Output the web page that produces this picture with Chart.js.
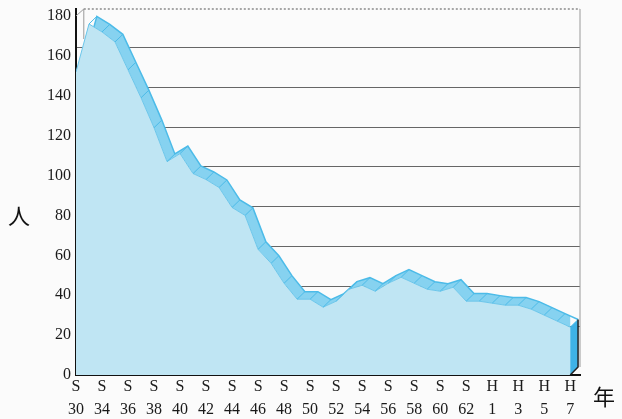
<!DOCTYPE html>
<html>
<head>
<meta charset="utf-8">
<script src="https://cdn.jsdelivr.net/npm/chart.js@4"></script>
<style>
  body { margin: 0; background: #fbfbfb; }
  #wrap { width: 622px; height: 419px; }
</style>
</head>
<body>
<div id="wrap"><canvas id="c"></canvas></div>
<script>
// 年（昭和S / 平成H）ラベル
const ERA = ['S','S','S','S','S','S','S','S','S','S','S','S','S','S','S','S','H','H','H','H'];
const YEAR = ['30','34','36','38','40','42','44','46','48','50','52','54','56','58','60','62','1','3','5','7'];
// 人数（各年、ラベル間にもう1点）
const PEOPLE = [
  152, 176, 172, 167, 153, 139, 124, 107, 111, 101,
  98, 94, 84, 80, 63, 56, 46, 38, 38, 34,
  37, 43, 45, 42, 46, 49, 46, 43, 42, 44,
  37, 37, 36, 35, 35, 33, 30, 27, 24
];
const Y_TICKS = [0, 20, 40, 60, 80, 100, 120, 140, 160, 180];

// 奥行き（3D風のずれ）
const DEPTH_X = 0.6;
const DEPTH_Y = 3.8;

const front = PEOPLE.map((v, i) => ({ x: i, y: v }));
const back = PEOPLE.map((v, i) => ({ x: i + DEPTH_X, y: v + DEPTH_Y }));

const framePlugin = {
  id: 'frame',
  beforeDatasetsDraw(chart) {
    const { ctx, chartArea: a, scales } = chart;
    const dx = scales.x.getPixelForValue(DEPTH_X) - scales.x.getPixelForValue(0);
    ctx.save();
    ctx.strokeStyle = '#555';
    ctx.lineWidth = 1;
    ctx.setLineDash([2, 2]);
    ctx.beginPath();
    ctx.moveTo(a.left + dx, a.top);
    ctx.lineTo(a.right, a.top);
    ctx.stroke();
    ctx.setLineDash([]);
    ctx.strokeStyle = '#999';
    ctx.beginPath();
    ctx.moveTo(a.right, a.top);
    ctx.lineTo(a.right, a.bottom - 8);
    ctx.moveTo(a.left + dx, a.top);
    ctx.lineTo(a.left + dx, a.top + 30);
    ctx.moveTo(a.left, scales.y.getPixelForValue(180));
    ctx.lineTo(a.left + dx, a.top);
    ctx.stroke();
    ctx.restore();
  },
  afterDatasetsDraw(chart) {
    const { ctx, scales } = chart;
    const last = PEOPLE.length - 1;
    const x0 = scales.x.getPixelForValue(last);
    const x1 = scales.x.getPixelForValue(last + DEPTH_X);
    const y0 = scales.y.getPixelForValue(PEOPLE[last]);
    const y1 = scales.y.getPixelForValue(PEOPLE[last] + DEPTH_Y);
    const yb = scales.y.getPixelForValue(0);
    ctx.save();
    // 区切り線（リボンの各節）
    ctx.strokeStyle = '#4cbbe8';
    ctx.lineWidth = 1;
    ctx.beginPath();
    PEOPLE.forEach((v, i) => {
      if (i === 0) return;
      const fx = scales.x.getPixelForValue(i), fy = scales.y.getPixelForValue(v);
      const bx = scales.x.getPixelForValue(i + DEPTH_X), by = scales.y.getPixelForValue(v + DEPTH_Y);
      ctx.moveTo(fx, fy);
      ctx.lineTo(bx, by);
    });
    ctx.stroke();
    // 右側面
    ctx.fillStyle = '#3fb2e6';
    ctx.beginPath();
    ctx.moveTo(x0, y0);
    ctx.lineTo(x1, y1);
    ctx.lineTo(x1, yb - 8);
    ctx.lineTo(x0, yb);
    ctx.closePath();
    ctx.fill();
    ctx.strokeStyle = '#222';
    ctx.lineWidth = 1.5;
    ctx.beginPath();
    ctx.moveTo(x0, yb);
    ctx.lineTo(x1, yb - 8);
    ctx.lineTo(x1, y1);
    ctx.stroke();
    // 軸タイトル
    ctx.fillStyle = '#111';
    ctx.font = '22px "Noto Sans CJK JP"';
    ctx.textAlign = 'center';
    ctx.textBaseline = 'middle';
    ctx.fillText('人', 19, 216);
    ctx.fillText('年', 604, 397);
    ctx.restore();
  }
};

new Chart(document.getElementById('c'), {
  type: 'line',
  data: {
    datasets: [
      {
        data: front,
        borderColor: '#6cc6ea',
        borderWidth: 1,
        backgroundColor: '#bfe5f3',
        fill: 'origin',
        pointRadius: 0,
        tension: 0
      },
      {
        data: back,
        borderColor: '#4cbbe8',
        borderWidth: 1.5,
        backgroundColor: '#86d2f0',
        fill: '-1',
        pointRadius: 0,
        tension: 0
      }
    ]
  },
  options: {
    responsive: true,
    maintainAspectRatio: false,
    animation: false,
    layout: { padding: { left: 0, right: 42, top: 9, bottom: 0 } },
    plugins: { legend: { display: false }, tooltip: { enabled: false } },
    scales: {
      x: {
        type: 'linear',
        min: 0,
        max: PEOPLE.length - 1 + 0.75,
        afterFit: s => { s.height = 44; },
        afterBuildTicks: s => { s.ticks = ERA.map((_, i) => ({ value: i * 2 })); },
        ticks: {
          autoSkip: false,
          maxRotation: 0,
          padding: -7,
          color: '#1a1a1a',
          font: { family: '"Liberation Serif", serif', size: 16, lineHeight: 1.4 },
          callback: v => [ERA[v / 2], YEAR[v / 2]]
        },
        grid: { display: false },
        border: { color: '#111', width: 2 }
      },
      y: {
        min: 0,
        max: 183.5,
        afterFit: s => { s.width = 76; },
        afterBuildTicks: s => { s.ticks = Y_TICKS.map(v => ({ value: v })); },
        ticks: {
          padding: -3,
          color: '#1a1a1a',
          font: { family: '"Liberation Serif", serif', size: 16 }
        },
        grid: { display: false },
        border: { color: '#111', width: 2 }
      },
      back: {
        position: 'right',
        min: -4.3,
        max: 183.5 - 4.3,
        afterFit: s => { s.width = 0; },
        afterBuildTicks: s => { s.ticks = Y_TICKS.filter(v => v > 0 && v < 180).map(v => ({ value: v })); },
        ticks: { display: false },
        grid: { color: '#666', lineWidth: 1, drawTicks: false },
        border: { display: false }
      }
    }
  },
  plugins: [framePlugin]
});
</script>
</body>
</html>
